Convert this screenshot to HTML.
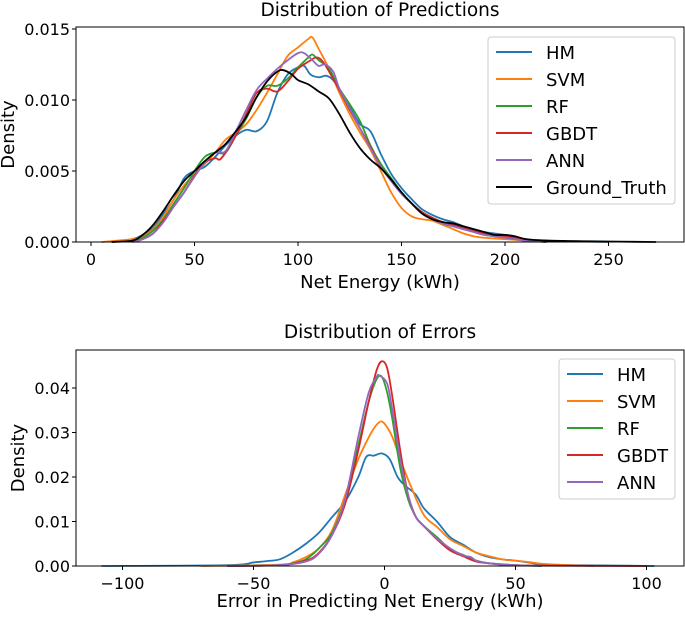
<!DOCTYPE html>
<html><head><meta charset="utf-8"><style>
body{margin:0;background:#fff;}
svg text{font-family:"DejaVu Sans","Liberation Sans",sans-serif;fill:#000;}
</style></head><body>
<svg id="c" width="685" height="612" viewBox="0 0 685 612"></svg>
<script>
// ---- Top chart data: [x, density] pairs ----
const topSeriesNames = ["HM","SVM","RF","GBDT","ANN","Ground_Truth"];
const topHM = [[10,0],[20,0.0002],[25,0.0005],[30,0.001],[35,0.002],[40,0.003],[45,0.0045],[50,0.005],[55,0.0053],[60,0.006],[65,0.0068],[70,0.0075],[75,0.0079],[80,0.0078],[85,0.0085],[90,0.0105],[95,0.0118],[100,0.0123],[103,0.0124],[106,0.0118],[110,0.0116],[114,0.0117],[118,0.0112],[125,0.0095],[130,0.0083],[135,0.0078],[140,0.0062],[145,0.0048],[150,0.0038],[155,0.003],[160,0.0023],[165,0.0019],[170,0.0016],[175,0.0014],[180,0.0011],[185,0.0009],[190,0.0007],[195,0.0006],[200,0.0005],[210,0.0002],[220,0.0001],[230,0.00005],[250,0]];
const topSVM = [[5,0],[20,0.0002],[25,0.0004],[30,0.0009],[35,0.0018],[40,0.003],[45,0.004],[50,0.0048],[55,0.0055],[60,0.0063],[65,0.0072],[70,0.0077],[75,0.0083],[80,0.0093],[85,0.0105],[90,0.0118],[95,0.0131],[100,0.0137],[105,0.0143],[107,0.0144],[110,0.0136],[115,0.0122],[120,0.0105],[125,0.009],[130,0.0077],[135,0.0065],[140,0.005],[145,0.0035],[150,0.0024],[155,0.0018],[160,0.0016],[165,0.0015],[170,0.0012],[175,0.0009],[180,0.0006],[185,0.0004],[190,0.0003],[200,0.0002],[210,0.0001],[220,0]];
const topRF = [[20,0],[25,0.0003],[30,0.0008],[35,0.0016],[40,0.0027],[45,0.0038],[50,0.005],[55,0.006],[60,0.0063],[65,0.0063],[70,0.0075],[75,0.0087],[80,0.0102],[85,0.011],[90,0.011],[95,0.0115],[100,0.0123],[105,0.013],[107,0.0132],[110,0.0128],[115,0.0122],[120,0.0108],[125,0.0097],[130,0.0085],[135,0.0068],[140,0.0055],[145,0.0045],[150,0.0035],[155,0.0027],[160,0.0021],[165,0.0017],[170,0.0013],[175,0.0011],[180,0.0009],[185,0.0007],[190,0.0005],[200,0.0003],[210,0.0001],[220,0]];
const topGBDT = [[20,0],[25,0.0002],[30,0.0006],[35,0.0015],[40,0.0025],[45,0.0035],[50,0.0047],[55,0.0056],[60,0.0059],[63,0.0059],[70,0.0075],[75,0.009],[80,0.0105],[85,0.0108],[90,0.0106],[95,0.0113],[100,0.0122],[105,0.0127],[109,0.013],[112,0.0127],[115,0.012],[120,0.0107],[125,0.0093],[130,0.008],[135,0.0067],[140,0.0053],[145,0.0043],[150,0.0034],[155,0.0027],[160,0.0021],[165,0.0017],[170,0.0014],[175,0.0012],[180,0.001],[185,0.0008],[190,0.0006],[200,0.0004],[210,0.0002],[220,0]];
const topANN = [[20,0],[25,0.0002],[30,0.0006],[35,0.0014],[40,0.0025],[45,0.0035],[50,0.0046],[55,0.0056],[60,0.0063],[65,0.0064],[70,0.0078],[75,0.0093],[80,0.0107],[85,0.0115],[90,0.0122],[95,0.0128],[100,0.0133],[103,0.0133],[107,0.0128],[110,0.0124],[113,0.0125],[117,0.012],[120,0.0108],[125,0.0094],[130,0.008],[135,0.0066],[140,0.0053],[145,0.0043],[150,0.0034],[155,0.0027],[160,0.002],[165,0.0016],[170,0.0013],[175,0.0011],[180,0.0009],[185,0.0007],[190,0.0005],[200,0.0003],[210,0.0001],[220,0]];
const topGT = [[10,0],[20,0.0001],[25,0.0005],[30,0.0012],[35,0.0022],[40,0.0033],[45,0.0043],[50,0.005],[55,0.0057],[60,0.0063],[65,0.0069],[70,0.0078],[75,0.0088],[80,0.0102],[85,0.0113],[90,0.012],[93,0.0121],[97,0.0118],[100,0.0114],[105,0.0111],[110,0.0106],[115,0.0101],[120,0.009],[125,0.0077],[130,0.0066],[135,0.0058],[140,0.0052],[145,0.0044],[150,0.0035],[155,0.0027],[160,0.002],[165,0.0016],[170,0.0014],[175,0.0013],[180,0.0011],[185,0.0009],[190,0.0007],[195,0.0005],[200,0.0005],[205,0.0004],[210,0.0002],[220,0.0001],[240,0.00005],[273,0]];
const topXTicks = [0,50,100,150,200,250];
const topYTicks = [0,0.005,0.010,0.015];
const topYLabels = ["0.000","0.005","0.010","0.015"];

// ---- Bottom chart data ----
const botSeriesNames = ["HM","SVM","RF","GBDT","ANN"];
const botHM = [[-108,0],[-60,0.0002],[-50,0.0008],[-45,0.0011],[-40,0.0015],[-35,0.003],[-30,0.005],[-25,0.0075],[-20,0.011],[-15,0.0145],[-10,0.02],[-7,0.0245],[-4,0.0248],[-1,0.0253],[2,0.024],[5,0.02],[8,0.018],[12,0.016],[15,0.013],[20,0.01],[25,0.0065],[30,0.0048],[35,0.003],[40,0.002],[45,0.0015],[50,0.0012],[55,0.0008],[60,0.0004],[70,0.0002],[103,0]];
const botSVM = [[-70,0],[-40,0.0003],[-35,0.0008],[-30,0.002],[-25,0.004],[-20,0.008],[-15,0.016],[-10,0.024],[-5,0.03],[-2,0.0323],[0,0.032],[3,0.029],[6,0.024],[10,0.018],[15,0.0115],[20,0.0088],[25,0.006],[30,0.0045],[35,0.003],[40,0.0022],[45,0.0015],[50,0.0012],[55,0.0009],[60,0.0005],[70,0.0002],[80,0]];
const botRF = [[-60,0],[-40,0.0002],[-35,0.0006],[-30,0.0015],[-25,0.004],[-20,0.0075],[-15,0.015],[-10,0.027],[-6,0.037],[-3,0.042],[-1,0.0425],[1,0.039],[3,0.033],[6,0.022],[9,0.015],[12,0.011],[15,0.009],[20,0.0065],[25,0.0038],[30,0.0025],[35,0.0012],[40,0.0006],[45,0.0003],[50,0.0002],[60,0]];
const botGBDT = [[-60,0],[-40,0.0002],[-30,0.0012],[-25,0.003],[-20,0.007],[-15,0.014],[-10,0.026],[-6,0.037],[-3,0.044],[-1,0.046],[1,0.0445],[3,0.038],[6,0.026],[9,0.016],[12,0.011],[15,0.009],[20,0.006],[25,0.0035],[30,0.0022],[35,0.001],[40,0.0006],[50,0.0002],[60,0.0001],[100,0]];
const botANN = [[-60,0],[-40,0.0002],[-30,0.001],[-25,0.0028],[-20,0.007],[-15,0.015],[-10,0.029],[-6,0.039],[-3,0.0425],[-2,0.0428],[1,0.041],[3,0.035],[6,0.024],[9,0.016],[12,0.011],[15,0.009],[20,0.0062],[25,0.004],[30,0.0024],[33,0.002],[35,0.0012],[40,0.0006],[50,0.0002],[60,0]];
const botXTicks = [-100,-50,0,50,100];
const botXLabels = ["\u2212100","\u221250","0","50","100"];
const botYTicks = [0,0.01,0.02,0.03,0.04];
const botYLabels = ["0.00","0.01","0.02","0.03","0.04"];

const colors = ["#1f77b4","#ff7f0e","#2ca02c","#d62728","#9467bd","#000000"];
const NS = "http://www.w3.org/2000/svg";
const svg = document.getElementById("c");
function mk(tag, attrs, parent){const e=document.createElementNS(NS,tag);for(const k in attrs)e.setAttribute(k,attrs[k]);(parent||svg).appendChild(e);return e;}
function smooth(pts){let d="M"+pts[0][0].toFixed(2)+","+pts[0][1].toFixed(2);
  for(let i=0;i<pts.length-1;i++){const p0=pts[Math.max(0,i-1)],p1=pts[i],p2=pts[i+1],p3=pts[Math.min(pts.length-1,i+2)];
    const c1=[p1[0]+(p2[0]-p0[0])/6,p1[1]+(p2[1]-p0[1])/6],c2=[p2[0]-(p3[0]-p1[0])/6,p2[1]-(p3[1]-p1[1])/6];
    d+=" C"+c1[0].toFixed(2)+","+c1[1].toFixed(2)+" "+c2[0].toFixed(2)+","+c2[1].toFixed(2)+" "+p2[0].toFixed(2)+","+p2[1].toFixed(2);}
  return d;}

function panel(cfg){
  const g=mk("g",{});
  
  
  const X=v=>cfg.x0px+(v-cfg.x0v)*cfg.xs, Y=v=>cfg.bot-(v*cfg.ys);
  const t=mk("text",{x:cfg.titleX,y:cfg.titleY,"font-size":"18.5","text-anchor":"middle"},g);t.textContent=cfg.title;
  
  
  cfg.series.forEach((s,i)=>{
    const p=mk("path",{d:smooth(s.map(q=>[X(q[0]),Y(q[1])])),fill:"none",stroke:colors[i],"stroke-width":"1.8","stroke-linejoin":"round"},g);
    
    
  });
  const f=mk("rect",{x:cfg.left,y:cfg.top,width:cfg.right-cfg.left,height:cfg.bot-cfg.top,fill:"none",stroke:"#000","stroke-width":"1"},g);
  
  
  cfg.xt.forEach((v,i)=>{
    mk("line",{x1:X(v),x2:X(v),y1:cfg.bot,y2:cfg.bot+4,stroke:"#000"},g);
    const l=mk("text",{x:X(v),y:cfg.bot+23,"font-size":"16","text-anchor":"middle"},g);l.textContent=cfg.xl[i];
    
    
  });
  cfg.yt.forEach((v,i)=>{
    mk("line",{x1:cfg.left-4,x2:cfg.left,y1:Y(v),y2:Y(v),stroke:"#000"},g);
    const l=mk("text",{x:cfg.left-6,y:Y(v)+6,"font-size":"16","text-anchor":"end"},g);l.textContent=cfg.yl[i];
    
    
  });
  const xl=mk("text",{x:(cfg.left+cfg.right)/2,y:cfg.xlabY,"font-size":"18","text-anchor":"middle"},g);xl.textContent=cfg.xlabel;
  
  
  const yl=mk("text",{x:0,y:0,"font-size":"18","text-anchor":"middle",transform:"translate("+cfg.ylabX+","+((cfg.top+cfg.bot)/2)+") rotate(-90)"},g);yl.textContent="Density";
  
  
  const lg=mk("g",{},g);
  
  
  mk("rect",{x:cfg.lg[0],y:cfg.lg[1],width:cfg.lg[2],height:cfg.lg[3],rx:3,fill:"#fff","fill-opacity":"0.8",stroke:"#ccc"},lg);
  cfg.names.forEach((n,i)=>{
    const y=cfg.lgY0+i*cfg.lgDy;
    const ln=mk("line",{x1:cfg.lg[0]+8,x2:cfg.lg[0]+44,y1:y,y2:y,stroke:colors[i],"stroke-width":"2"},lg);
    
    
    const tx=mk("text",{x:cfg.lg[0]+58,y:y+7,"font-size":"18"},lg);tx.textContent=n;
    
    
  });
}
panel({name:"predictions-chart",title:"Distribution of Predictions",titleX:380,titleY:16,left:76,right:684,top:27,bot:242,
  x0px:91,x0v:0,xs:2.07,ys:213/0.015,series:[topHM,topSVM,topRF,topGBDT,topANN,topGT],names:topSeriesNames,
  xt:topXTicks,xl:topXTicks.map(String),yt:topYTicks,yl:topYLabels,xlabel:"Net Energy (kWh)",xlabY:288,ylabX:14,
  lg:[488,37,187,167],lgY0:52,lgDy:27});
panel({name:"errors-chart",title:"Distribution of Errors",titleX:380,titleY:338,left:76,right:684,top:350,bot:566,
  x0px:384.5,x0v:0,xs:2.62,ys:178/0.04,series:[botHM,botSVM,botRF,botGBDT,botANN],names:botSeriesNames,
  xt:botXTicks,xl:botXLabels,yt:botYTicks,yl:botYLabels,xlabel:"Error in Predicting Net Energy (kWh)",xlabY:607,ylabX:24,
  lg:[559,359,116,140],lgY0:374,lgDy:27});
</script>
</body></html>
